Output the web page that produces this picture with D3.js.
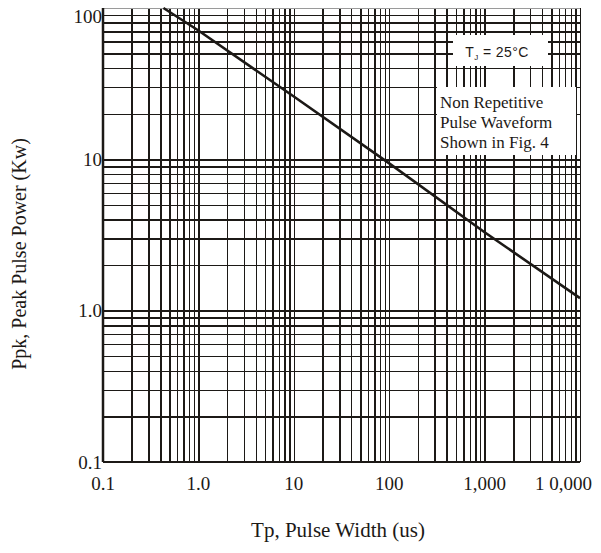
<!DOCTYPE html>
<html>
<head>
<meta charset="utf-8">
<script src="https://cdn.jsdelivr.net/npm/d3@7.9.0/dist/d3.min.js"></script>
<style>
  body { margin: 0; background: #fff; }
  svg { display: block; }
  .grid line { stroke: #1c1916; stroke-width: 1.5; shape-rendering: crispEdges; }
  .tick-label { font-family: "Liberation Serif", "Times New Roman", serif; font-size: 19px; fill: #1c1916; }
  .title { font-family: "Liberation Serif", "Times New Roman", serif; font-size: 20px; fill: #1c1916; }
</style>
</head>
<body>
<div id="chart"></div>
<script>
/* ---------------------------------------------------------
   DATA
--------------------------------------------------------- */
const tpValues = [0.43, 1, 10, 100, 1000, 10000];   // pulse width (us)
const ppkValues = [100, 71, 26, 9.4, 3.3, 1.21];    // peak pulse power (kW)

const xTickValues = [0.1, 1, 10, 100, 1000, 10000];
const xTickLabels = ['0.1', '1.0', '10', '100', '1,000', '1 0,000'];
const yTickValues = [0.1, 1, 10, 100];
const yTickLabels = ['0.1', '1.0', '10', '100'];

const noteLines = ['Non Repetitive', 'Pulse Waveform', 'Shown in Fig. 4'];

/* ---------------------------------------------------------
   LAYOUT
--------------------------------------------------------- */
const width = 601;
const height = 553;
const margin = { top: 8, right: 21, bottom: 91, left: 103 };
const innerW = width - margin.left - margin.right;
const innerH = height - margin.top - margin.bottom;

const svg = d3.select('#chart').append('svg')
  .attr('width', width)
  .attr('height', height);

const x = d3.scaleLog().domain([0.1, 10000]).range([margin.left, margin.left + innerW]);
const y = d3.scaleLog().domain([0.1, 100]).range([margin.top + innerH, margin.top]);

/* ---------------------------------------------------------
   GRID
--------------------------------------------------------- */
const xGrid = svg.append('g')
  .attr('class', 'grid')
  .attr('transform', `translate(0, ${margin.top + innerH})`)
  .call(d3.axisBottom(x).ticks(10).tickSize(-innerH).tickFormat(''));
xGrid.select('.domain').remove();

const yGrid = svg.append('g')
  .attr('class', 'grid')
  .attr('transform', `translate(${margin.left}, 0)`)
  .call(d3.axisLeft(y).ticks(10).tickSize(-innerW).tickFormat(''));
yGrid.select('.domain').remove();

// top edge is drawn lighter in the source
yGrid.selectAll('.tick')
  .filter((d) => d === 100)
  .select('line')
  .style('stroke', '#9a9a9a')
  .style('stroke-width', 1.2);

// heavier left and bottom borders
svg.append('line')
  .attr('x1', margin.left).attr('x2', margin.left)
  .attr('y1', margin.top).attr('y2', margin.top + innerH)
  .attr('stroke', '#1c1916').attr('stroke-width', 2.5);
svg.append('line')
  .attr('x1', margin.left).attr('x2', margin.left + innerW)
  .attr('y1', margin.top + innerH).attr('y2', margin.top + innerH)
  .attr('stroke', '#1c1916').attr('stroke-width', 2);

/* ---------------------------------------------------------
   CURVE
--------------------------------------------------------- */
const points = tpValues.map((t, i) => [t, ppkValues[i]]);
svg.append('path')
  .datum(points)
  .attr('fill', 'none')
  .attr('stroke', '#1c1916')
  .attr('stroke-width', 2.6)
  .attr('d', d3.line().x((d) => x(d[0])).y((d) => y(d[1])));

/* ---------------------------------------------------------
   ANNOTATIONS
--------------------------------------------------------- */
const right = margin.left + innerW;

// T_J box
svg.append('rect')
  .attr('x', right - 127).attr('y', 35)
  .attr('width', 95).attr('height', 31)
  .attr('fill', '#fff');
const tj = svg.append('text')
  .attr('x', right - 83).attr('y', 57)
  .attr('text-anchor', 'middle')
  .style('font-family', '"Liberation Sans", Arial, sans-serif')
  .style('font-size', '14px')
  .style('letter-spacing', '0.4px')
  .style('fill', '#1c1916');
tj.append('tspan').text('T');
tj.append('tspan').attr('dy', 3).style('font-size', '8px').text('J');
tj.append('tspan').attr('dy', -3).text(' = 25°C');

// waveform note box
svg.append('rect')
  .attr('x', right - 143).attr('y', 87)
  .attr('width', 139).attr('height', 68)
  .attr('fill', '#fff');
svg.append('g')
  .selectAll('text')
  .data(noteLines)
  .join('text')
  .attr('x', right - 140)
  .attr('y', (d, i) => 108 + i * 20)
  .style('font-family', '"Liberation Serif", "Times New Roman", serif')
  .style('font-size', '17px')
  .style('fill', '#1c1916')
  .text((d) => d);

/* ---------------------------------------------------------
   TICK LABELS
--------------------------------------------------------- */
svg.append('g')
  .selectAll('text')
  .data(xTickValues)
  .join('text')
  .attr('class', 'tick-label')
  .attr('y', margin.top + innerH + 28)
  .attr('text-anchor', 'middle')
  .text((d, i) => xTickLabels[i])
  .attr('x', function (d) {
    // keep the last label inside the page
    const half = this.getComputedTextLength() / 2;
    return Math.min(x(d), width - 9 - half);
  });

svg.append('g')
  .selectAll('text')
  .data(yTickValues)
  .join('text')
  .attr('class', 'tick-label')
  .attr('x', margin.left - 1)
  .attr('y', (d) => Math.max(y(d), margin.top + 8))
  .attr('dy', '0.35em')
  .attr('text-anchor', 'end')
  .text((d, i) => yTickLabels[i]);

/* ---------------------------------------------------------
   AXIS TITLES
--------------------------------------------------------- */
svg.append('text')
  .attr('class', 'title')
  .attr('x', 338)
  .attr('y', 537)
  .attr('text-anchor', 'middle')
  .style('font-size', '21px')
  .text('Tp, Pulse Width (us)');

svg.append('text')
  .attr('class', 'title')
  .attr('transform', 'translate(26, 254) rotate(-90)')
  .attr('text-anchor', 'middle')
  .text('Ppk, Peak Pulse Power (Kw)');
</script>
</body>
</html>
